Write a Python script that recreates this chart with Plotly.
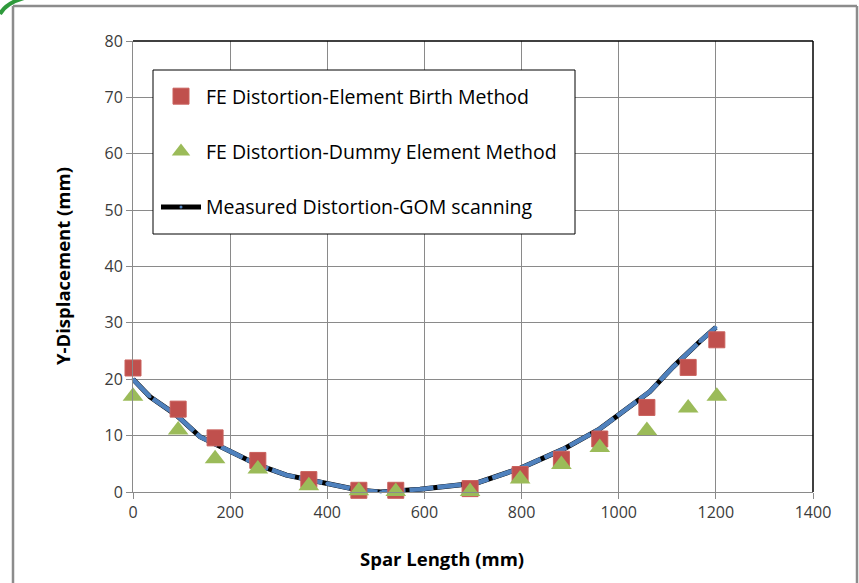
import plotly.graph_objects as go

# ---- data ----
birth_x = [0, 93, 169, 257, 362, 465, 541, 694, 797, 882, 961, 1058, 1143, 1202]
birth_y = [22.0, 14.7, 9.6, 5.6, 2.2, 0.3, 0.3, 0.6, 3.1, 5.8, 9.4, 15.0, 22.1, 27.0]

dummy_x = [0, 93, 169, 257, 362, 465, 541, 694, 797, 882, 961, 1058, 1143, 1202]
dummy_y = [17.0, 11.0, 5.9, 4.1, 1.1, 0.2, 0.1, 0.1, 2.3, 4.9, 7.9, 10.9, 14.9, 17.0]

meas_x = [0, 35, 90, 138, 165, 257, 316, 399, 467, 510, 535, 591, 708, 797, 886, 961, 1064, 1112, 1167, 1200]
meas_y = [20.0, 16.9, 13.6, 9.8, 8.7, 4.8, 3.0, 1.5, 0.3, 0.0, 0.1, 0.5, 1.6, 4.2, 7.6, 11.2, 17.8, 22.2, 26.7, 29.2]

x_ticks = [0, 200, 400, 600, 800, 1000, 1200, 1400]
y_ticks = [0, 10, 20, 30, 40, 50, 60, 70, 80]

names = ["FE Distortion-Element Birth Method",
         "FE Distortion-Dummy Element Method",
         "Measured Distortion-GOM scanning"]

# ---- layout geometry (screen pixels) ----
W, H = 859, 583
L, R, T, B = 133, 813, 41, 492


def px(x):
    return (x - L) / (R - L)


def py(y):
    return (B - y) / (B - T)


FONT = "Open Sans"
GRID = "#8a8a8a"
TXT = "#3b3b3b"
FRAME = "#8c8c8c"

fig = go.Figure()

fig.add_trace(go.Scatter(
    x=meas_x, y=meas_y, mode="lines+markers", name=names[2],
    line=dict(color="black", width=5),
    marker=dict(color="#4f81bd", size=3),
    legendgroup="c", legendrank=3, cliponaxis=False,
))
fig.add_trace(go.Scatter(
    x=meas_x, y=meas_y, mode="lines", showlegend=False,
    line=dict(color="#4f81bd", width=4.5, dash="24px,4px"),
    hoverinfo="skip", cliponaxis=False,
))
fig.add_trace(go.Scatter(
    x=birth_x, y=birth_y, mode="markers", name=names[0],
    marker=dict(symbol="square", color="#c0504d", size=16,
                line=dict(color="#c9605c", width=1)),
    legendgroup="a", legendrank=1, cliponaxis=False,
))
fig.add_trace(go.Scatter(
    x=dummy_x, y=dummy_y, mode="markers", name=names[1],
    marker=dict(symbol="triangle-up", color="#9bbb59", size=18,
                line=dict(color="#9bbb59", width=0)),
    legendgroup="b", legendrank=2, cliponaxis=False,
))

shapes = [
    # outer chart frame (left, top, right)
    dict(type="line", xref="paper", yref="paper",
         x0=px(13), x1=px(13), y0=py(583), y1=py(6),
         line=dict(color=FRAME, width=2.5), layer="below"),
    dict(type="line", xref="paper", yref="paper",
         x0=px(13), x1=px(857), y0=py(6), y1=py(6),
         line=dict(color=FRAME, width=2.5), layer="below"),
    dict(type="line", xref="paper", yref="paper",
         x0=px(857), x1=px(857), y0=py(583), y1=py(6),
         line=dict(color=FRAME, width=2.5), layer="below"),
    # top and right plot borders
    dict(type="line", xref="paper", yref="paper", x0=0, x1=1, y0=1, y1=1,
         line=dict(color="black", width=1.5)),
    dict(type="line", xref="paper", yref="paper", x0=1, x1=1, y0=0, y1=1,
         line=dict(color="black", width=1.5)),
    # legend box
    dict(type="rect", xref="paper", yref="paper",
         x0=px(153), x1=px(575), y0=py(234), y1=py(70),
         fillcolor="white", line=dict(color="black", width=1), layer="above"),
    # green arc in top-left corner
    dict(type="path", xref="paper", yref="paper",
         path=f"M {px(0)},{py(14)} Q {px(6)},{py(3)} {px(24)},{py(-2)}",
         line=dict(color="#2f9a3c", width=4)),
]

annotations = [
    dict(text="<b>Y-Displacement (mm)</b>", xref="paper", yref="paper",
         x=px(62), y=py(266), textangle=-90, showarrow=False,
         font=dict(family=FONT, size=18.5, color="black"),
         xanchor="center", yanchor="middle"),
    dict(text="<b>Spar Length (mm)</b>", xref="paper", yref="paper",
         x=px(442), y=py(558), showarrow=False,
         font=dict(family=FONT, size=18.5, color="black"),
         xanchor="center", yanchor="middle"),
]

fig.update_layout(
    width=W, height=H,
    margin=dict(l=L, r=W - R, t=T, b=H - B, pad=0),
    paper_bgcolor="white", plot_bgcolor="white",
    font=dict(family=FONT, size=16, color=TXT),
    showlegend=True,
    legend=dict(
        x=px(156), y=py(77), xanchor="left", yanchor="top",
        bgcolor="rgba(0,0,0,0)", borderwidth=0,
        font=dict(family=FONT, size=19.5, color="black"),
        tracegroupgap=27, traceorder="grouped", itemwidth=40,
    ),
    shapes=shapes,
    annotations=annotations,
)

fig.update_xaxes(
    range=[0, 1400], tickvals=x_ticks, ticktext=[str(v) for v in x_ticks],
    showgrid=True, gridcolor=GRID, gridwidth=1,
    showline=True, linecolor=GRID, linewidth=1,
    ticks="outside", ticklen=6, tickcolor=GRID,
    zeroline=False, tickfont=dict(family=FONT, size=16, color=TXT),
)
fig.update_yaxes(
    range=[0, 80], tickvals=y_ticks, ticktext=[str(v) for v in y_ticks],
    showgrid=True, gridcolor=GRID, gridwidth=1,
    showline=True, linecolor=GRID, linewidth=1,
    ticks="outside", ticklen=6, tickcolor=GRID,
    zeroline=False, tickfont=dict(family=FONT, size=16, color=TXT),
)

fig.write_html(
    "out.html",
    config={"displayModeBar": False},
    post_script="document.body.style.margin='0';"
                "document.documentElement.style.overflow='hidden';",
)
